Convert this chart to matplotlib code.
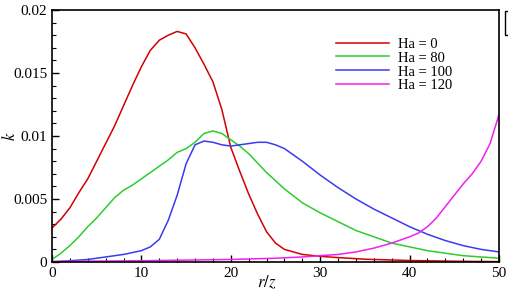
import matplotlib
matplotlib.use('Agg')
import matplotlib.pyplot as plt
from matplotlib.ticker import MultipleLocator, FuncFormatter
from matplotlib.patches import Rectangle

plt.rcParams['font.family'] = ['Liberation Serif', 'DejaVu Serif']
plt.rcParams['mathtext.fontset'] = 'stix'

# Ha = 0
x_ha0 = [0, 1, 2, 3, 4, 5, 6, 7, 8, 9, 10, 11, 12, 13, 14, 15, 16, 17, 18, 19,
         20, 21, 22, 23, 24, 25, 26, 27, 28, 30, 32, 35, 40, 45, 50]
k_ha0 = [0.0027, 0.0034, 0.0043, 0.0055, 0.0066, 0.0080, 0.0094, 0.0108, 0.0124, 0.0140,
         0.0155, 0.0168, 0.0176, 0.0180, 0.0183, 0.0181, 0.0170, 0.0157, 0.0143, 0.0121,
         0.0091, 0.0072, 0.0054, 0.0038, 0.0024, 0.0015, 0.0010, 0.0008, 0.0006, 0.00045,
         0.00035, 0.00022, 0.00012, 0.00006, 0.00003]

# Ha = 80
x_ha80 = [0, 1, 2, 3, 4, 5, 6, 7, 8, 9, 10, 11, 12, 13, 14, 15, 16, 17, 18, 19, 20,
          21, 22, 24, 26, 28, 30, 32, 34, 36, 38, 40, 42, 44, 46, 48, 50]
k_ha80 = [0.0002, 0.0007, 0.0013, 0.0020, 0.0028, 0.0035, 0.0043, 0.0051, 0.0057, 0.0061,
          0.0066, 0.0071, 0.0076, 0.0081, 0.0087, 0.0090, 0.0095, 0.0102, 0.0104, 0.0102,
          0.0097, 0.0092, 0.0086, 0.0071, 0.0058, 0.0047, 0.0039, 0.0032, 0.0025, 0.0020,
          0.0015, 0.0012, 0.0009, 0.0007, 0.0005, 0.0004, 0.0003]

# Ha = 100
x_ha100 = [0, 2, 4, 6, 8, 10, 11, 12, 13, 14, 15, 16, 17, 18, 19, 20, 21, 22, 23, 24,
           25, 26, 28, 30, 32, 34, 36, 38, 40, 42, 44, 46, 48, 50]
k_ha100 = [0.0000, 0.0001, 0.0002, 0.0004, 0.0006, 0.0009, 0.0012, 0.0018, 0.0033, 0.0053,
           0.0078, 0.0093, 0.0096, 0.0095, 0.0093, 0.0092, 0.0093, 0.0094, 0.0095, 0.0095,
           0.0093, 0.0090, 0.0080, 0.0069, 0.0059, 0.0050, 0.0042, 0.0035, 0.0028, 0.0022,
           0.0017, 0.0013, 0.0010, 0.0008]

# Ha = 120
x_ha120 = [0, 5, 10, 15, 20, 25, 28, 30, 32, 34, 36, 38, 40, 41, 42, 43, 44, 45, 46, 47,
           48, 49, 50]
k_ha120 = [0.00005, 0.00007, 0.0001, 0.00015, 0.0002, 0.0003, 0.0004, 0.0005, 0.0006, 0.0008,
           0.0011, 0.0015, 0.0020, 0.0023, 0.0028, 0.0035, 0.0044, 0.0053, 0.0062, 0.0070,
           0.0080, 0.0094, 0.0117]

series = [
    (x_ha0, k_ha0, 'Ha = 0', '#d40000'),
    (x_ha80, k_ha80, 'Ha = 80', '#2ecc2e'),
    (x_ha100, k_ha100, 'Ha = 100', '#3a3af0'),
    (x_ha120, k_ha120, 'Ha = 120', '#f020f0'),
]

fig = plt.figure(figsize=(5.08, 2.90), dpi=100)
ax = fig.add_axes([52/508, 28/290, 447/508, 252/290])

for xs, ks, lab, col in series:
    ax.plot(xs, ks, color=col, lw=1.1, label=lab)

ax.set_xlim(0, 50)
ax.set_ylim(0, 0.02)
ax.xaxis.set_major_locator(MultipleLocator(10))
ax.xaxis.set_minor_locator(MultipleLocator(2))
ax.yaxis.set_major_locator(MultipleLocator(0.005))
ax.yaxis.set_minor_locator(MultipleLocator(0.001))
ax.yaxis.set_major_formatter(FuncFormatter(lambda v, p: '%g' % round(v, 4)))
ax.tick_params(which='both', direction='in', labelsize=11, top=False, right=False)
ax.tick_params(which='major', length=5, width=1)
ax.tick_params(which='minor', length=3, width=0.8)
for s in ax.spines.values():
    s.set_linewidth(1.2)

ax.set_xlabel('$r/z$', fontsize=12, va='center')
ax.set_ylabel('$k$', fontsize=12, va='center')
ax.xaxis.set_label_coords(0.48, -0.082)
ax.yaxis.set_label_coords(-0.092, 0.5)

ax.legend(loc='upper left', bbox_to_anchor=(0.62, 0.92), frameon=False,
          fontsize=10.5, handlelength=3.6, handletextpad=0.6, labelspacing=0.05,
          borderpad=0)

fig.patches.append(Rectangle((505/508, 1 - 35/290), 10/508, 24/290,
                             transform=fig.transFigure, fill=False,
                             edgecolor='black', lw=1))

fig.savefig('out.png', dpi=100)
